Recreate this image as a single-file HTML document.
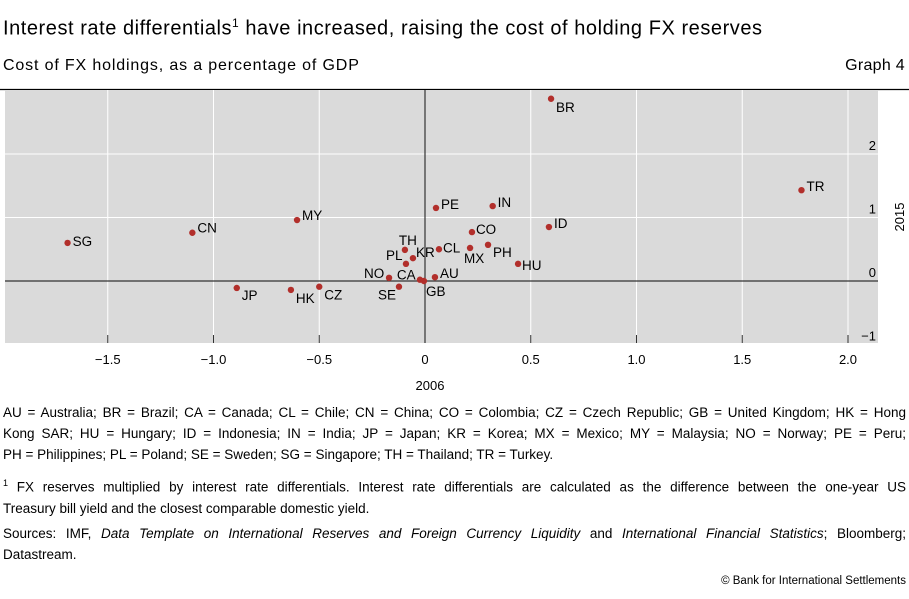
<!DOCTYPE html>
<html><head><meta charset="utf-8">
<style>
body{margin:0;width:909px;height:599px;background:#fff;font-family:"Liberation Sans",sans-serif;color:#000;position:relative;overflow:hidden}
.t{position:absolute;white-space:nowrap}
.p{position:absolute;left:3px;width:903px;font-size:13.5px;line-height:21px}
.j{display:block;text-align:justify;text-align-last:justify;white-space:nowrap}
.l{display:block;white-space:nowrap}
</style></head><body>
<div class="t" style="left:3px;top:16px;font-size:20px;letter-spacing:0.55px">Interest rate differentials<sup style="font-size:12px">1</sup> have increased, raising the cost of holding FX reserves</div>
<div class="t" style="left:3px;top:57px;font-size:16px;letter-spacing:0.85px">Cost of FX holdings, as a percentage of GDP</div>
<div class="t" style="right:4px;top:57px;font-size:16px;letter-spacing:0.3px">Graph 4</div>
<svg id="chart" width="909" height="400" style="position:absolute;left:0;top:0" font-family="Liberation Sans, sans-serif"></svg>
<div class="p" style="top:402px"><span class="j">AU = Australia; BR = Brazil; CA = Canada; CL = Chile; CN = China; CO = Colombia; CZ = Czech Republic; GB = United Kingdom; HK = Hong</span><span class="j">Kong SAR; HU = Hungary; ID = Indonesia; IN = India; JP = Japan; KR = Korea; MX = Mexico; MY = Malaysia; NO = Norway; PE = Peru;</span><span class="l">PH = Philippines; PL = Poland; SE = Sweden; SG = Singapore; TH = Thailand; TR = Turkey.</span></div>
<div class="p" style="top:473px"><span class="j"><sup style="font-size:9px">1</sup> FX reserves multiplied by interest rate differentials. Interest rate differentials are calculated as the difference between the one-year US</span><span class="l">Treasury bill yield and the closest comparable domestic yield.</span></div>
<div class="p" style="top:523px"><span class="j">Sources: IMF, <i>Data Template on International Reserves and Foreign Currency Liquidity</i> and <i>International Financial Statistics</i>; Bloomberg;</span><span class="l">Datastream.</span></div>
<div class="t" style="right:3px;top:575px;font-size:11.5px">© Bank for International Settlements</div>
<script>
const countries=["BR","TR","ID","IN","PE","CO","PH","MX","CL","HU","TH","KR","PL","NO","CA","GB","AU","SE","CZ","HK","JP","MY","CN","SG"];
const x2006=[0.596,1.78,0.586,0.32,0.052,0.222,0.298,0.213,0.066,0.44,-0.095,-0.057,-0.09,-0.17,-0.024,-0.005,0.047,-0.123,-0.50,-0.634,-0.89,-0.605,-1.10,-1.69];
const y2015=[2.87,1.43,0.85,1.18,1.15,0.77,0.57,0.52,0.50,0.27,0.49,0.36,0.27,0.05,0.02,0.0,0.06,-0.09,-0.09,-0.14,-0.11,0.96,0.76,0.60];
const xTicks=[-1.5,-1.0,-0.5,0,0.5,1.0,1.5,2.0];
const xTickLabels=["\u22121.5","\u22121.0","\u22120.5","0","0.5","1.0","1.5","2.0"];
const yTicks=[2,1,0,-1];
const yTickLabels=["2","1","0","\u22121"];
const labelOffsets={BR:[5,13],TR:[5,1],ID:[5,1],IN:[5,1],PE:[5,1],CO:[4,2],PH:[5,12],MX:[-6,15],CL:[4,3],HU:[4,6],TH:[-6,-5],KR:[3,-1],PL:[-20,-4],NO:[-25,0],CA:[-23,0],GB:[2,15],AU:[5,1],SE:[-21,13],CZ:[5,13],HK:[5,13],JP:[5,12],MY:[5,0],CN:[5,0],SG:[5,3]};
const L=5,R=878,T=90,B=343;
const sx=v=>425+v*211.5, sy=v=>281-v*63.5;
const svg=document.getElementById('chart');
const NS='http://www.w3.org/2000/svg';
function mk(tag,attrs,parent){const e=document.createElementNS(NS,tag);for(const k in attrs)e.setAttribute(k,attrs[k]);(parent||svg).appendChild(e);return e;}
let e;
e=mk('line',{x1:0,x2:909,y1:89.5,y2:89.5,stroke:'#000','stroke-width':1.2});


e=mk('rect',{x:L,y:T,width:R-L,height:B-T,fill:'#dadada'});


xTicks.forEach((v,i)=>{
 if(v!==0){e=mk('line',{x1:sx(v),x2:sx(v),y1:T,y2:B,stroke:'#fff','stroke-width':1});
 
 }
 e=mk('line',{x1:sx(v),x2:sx(v),y1:B-8,y2:B,stroke:'#333','stroke-width':1});
 
 
 e=mk('text',{x:sx(v),y:364,'text-anchor':'middle','font-size':13});
 e.textContent=xTickLabels[i];
 
 
});
yTicks.forEach((v,i)=>{
 if(v!==0&&v!==-1){e=mk('line',{x1:L,x2:R,y1:sy(v),y2:sy(v),stroke:'#fff','stroke-width':1});
 
 }
 e=mk('text',{x:876,y:sy(v)-4,'text-anchor':'end','font-size':13});
 e.textContent=yTickLabels[i];
 
 
});
e=mk('line',{x1:L,x2:R,y1:sy(0),y2:sy(0),stroke:'#333','stroke-width':1.2});


e=mk('line',{x1:sx(0),x2:sx(0),y1:T,y2:B,stroke:'#333','stroke-width':1.2});


countries.forEach((c,i)=>{
 const px=sx(x2006[i]),py=sy(y2015[i]);
 e=mk('circle',{cx:px,cy:py,r:3.2,fill:'#b22f2b'});
 
 
 const o=labelOffsets[c];
 e=mk('text',{x:px+o[0],y:py+o[1],'font-size':13.5});
 e.textContent=c;
 
 
});
e=mk('text',{x:430,y:390,'text-anchor':'middle','font-size':13});
e.textContent='2006';


e=mk('text',{x:0,y:0,'text-anchor':'middle','font-size':13,transform:'translate(904,217) rotate(-90)'});
e.textContent='2015';


</script>
</body></html>
